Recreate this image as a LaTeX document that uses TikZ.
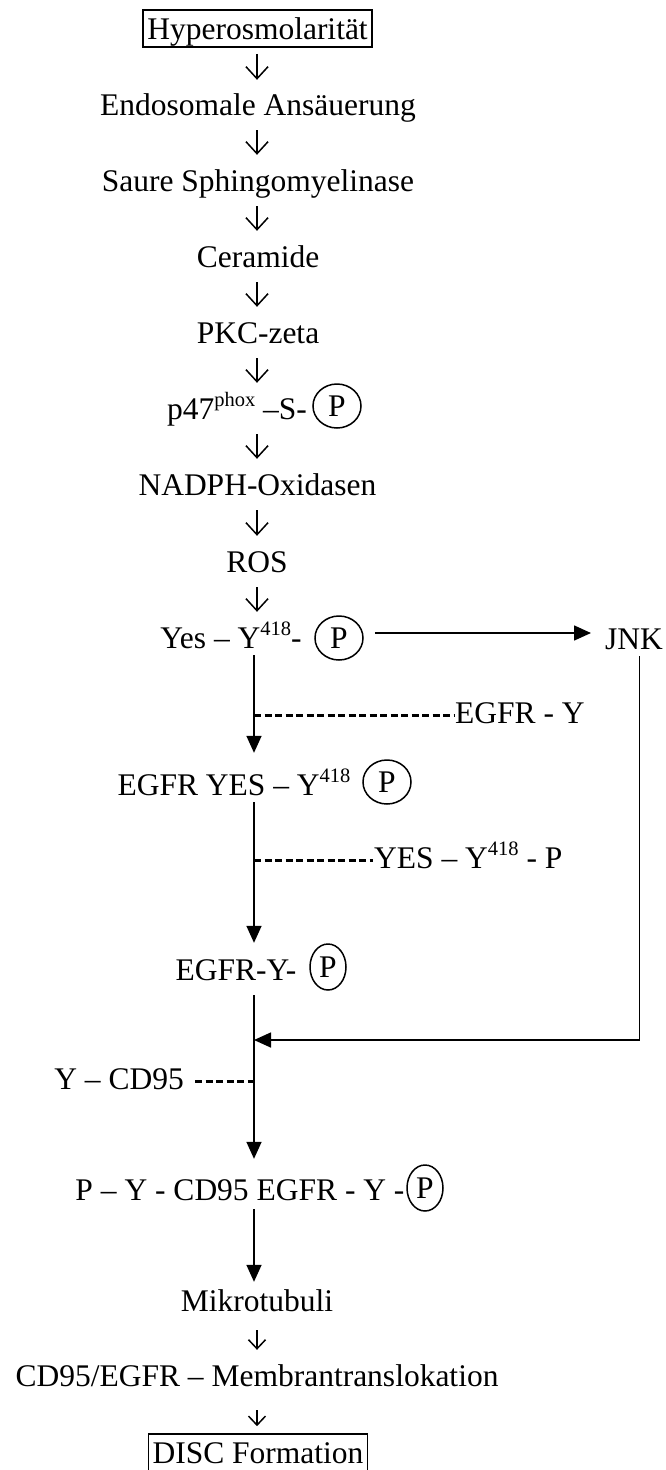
\documentclass[tikz,border=0pt]{standalone}
\usepackage{fontspec}
\setmainfont{Liberation Serif}
\usetikzlibrary{arrows.meta,shapes.geometric,calc}
\newcommand\supx[1]{\raisebox{13pt}{\fontsize{20.5}{20.5}\selectfont #1}}
\begin{document}
\begin{tikzpicture}[x=1pt,y=-1pt,
  txt/.style={inner sep=0pt, text height=22pt, text depth=7pt, font=\fontsize{31.5}{37}\selectfont},
  boxed/.style={txt, draw, line width=1.7pt, inner xsep=4pt, text height=29pt, text depth=8pt},
  pc/.style={ellipse, draw, line width=1.5pt, inner sep=0pt, minimum width=48pt, minimum height=44pt, font=\fontsize{31.5}{37}\selectfont},
  pcn/.style={pc, minimum width=36pt, minimum height=46pt},
  sarr/.style={line width=1.5pt, -{Straight Barb[length=12pt,width=22pt]}},
  sarrs/.style={line width=1.5pt, -{Straight Barb[length=9pt,width=17pt]}},
  farr/.style={line width=1.6pt, -{Triangle[length=17pt,width=15pt]}},
  dsh/.style={line width=2.3pt, dash pattern=on 7pt off 3.5pt}
]
\useasboundingbox (0,0) rectangle (666,1470);
\coordinate (cx) at (257,0);
\coordinate (trunk) at (254,0);

% nodes
\node[boxed, anchor=base] (hyp) at (257.5,39) {Hyperosmolarität};
\node[txt, anchor=base] (endo) at (258,115) {Endosomale Ansäuerung};
\node[txt, anchor=base] (saure) at (258,191) {Saure Sphingomyelinase};
\node[txt, anchor=base] (cer) at (258,267) {Ceramide};
\node[txt, anchor=base] (pkc) at (258,343) {PKC-zeta};
\node[txt, anchor=base] (p47) at (237,419) {p47\supx{phox} –S-};
\node[pc] (p47P) at (337,406) {P};
\node[txt, anchor=base] (nadph) at (257.5,495) {NADPH-Oxidasen};
\node[txt, anchor=base] (ros) at (257,572) {ROS};
\node[txt, anchor=base] (yes) at (231,648) {Yes – Y\supx{418}-};
\node[pc] (yesP) at (339,638) {P};
\node[txt, anchor=base west] (jnk) at (605,649) {JNK};
\node[txt, anchor=base west] (egfrY) at (455,723) {EGFR - Y};
\node[txt, anchor=base] (egfryes) at (234,795) {EGFR YES – Y\supx{418}};
\node[pc] (egfryesP) at (387,782) {P};
\node[txt, anchor=base west] (yesl) at (374,868) {YES – Y\supx{418} - P};
\node[txt, anchor=base] (egfry) at (236,980) {EGFR-Y-};
\node[pcn] (egfryP) at (328,967) {P};
\node[txt, anchor=base east] (ycd) at (184,1089) {Y – CD95};
\node[txt, anchor=base] (pcd) at (240,1200) {P – Y - CD95 EGFR - Y -};
\node[pcn] (pcdP) at (425,1188) {P};
\node[txt, anchor=base] (mikro) at (257,1311) {Mikrotubuli};
\node[txt, anchor=base] (memb) at (257,1386) {CD95/EGFR – Membrantranslokation};
\node[boxed, anchor=base] (disc) at (258,1463) {DISC Formation};

% small chain arrows
\draw[sarr, shorten <=6pt, shorten >=13pt] (hyp.south -| cx) -- (endo.north -| cx);
\foreach \a/\b in {endo/saure, saure/cer, cer/pkc, pkc/p47, p47/nadph, nadph/ros, ros/yes}
  \draw[sarr, shorten <=8pt, shorten >=14pt] (\a.south -| cx) -- (\b.north -| cx);
\draw[sarrs, shorten <=12pt, shorten >=14pt] (mikro.south -| cx) -- (memb.north -| cx);
\draw[sarrs, shorten <=17pt, shorten >=7pt] (memb.south -| cx) -- (disc.north -| cx);

% trunk arrows
\draw[farr, shorten >=20pt] (yes.south -| trunk) -- (egfryes.north -| trunk);
\draw[farr, shorten >=15pt] (egfryes.south -| trunk) -- (egfry.north -| trunk);
\draw[farr, shorten <=8pt, shorten >=19pt] (egfry.south -| trunk) -- (pcd.north -| trunk);
\draw[farr, shorten <=2pt, shorten >=7pt] (pcd.south -| trunk) -- (mikro.north -| trunk);

% JNK branch
\path ($(yesP.east)+(11,-5)$) coordinate (hs);
\draw[farr, shorten >=14pt] (hs) -- (hs -| jnk.west);
\coordinate (jin) at (254,1040);
\draw[farr] ([xshift=5.5pt]jnk.south) |- (jin);

% dashed side inputs
\draw[dsh, shorten >=1pt] (egfrY.west -| trunk) -- (egfrY.west);
\draw[dsh, shorten >=1pt] (yesl.west -| trunk) -- (yesl.west);
\draw[dsh, shorten <=11pt] (ycd.east) -- (ycd.east -| trunk);
\end{tikzpicture}
\end{document}
